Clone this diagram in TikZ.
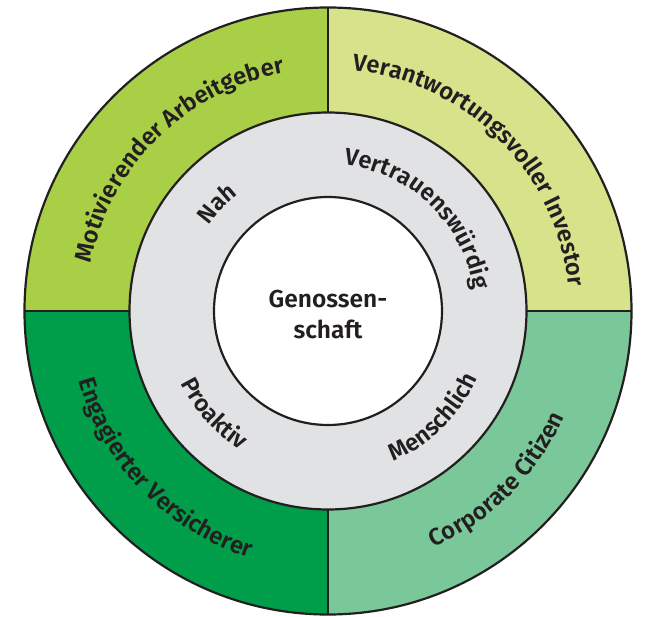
\documentclass[tikz,border=0pt]{standalone}
\usepackage{fontspec}
\setmainfont{Fira Sans}[BoldFont={Fira Sans SemiBold}]
\usetikzlibrary{decorations.text}
\definecolor{cTL}{HTML}{A8CF45}
\definecolor{cTR}{HTML}{D6E38A}
\definecolor{cBL}{HTML}{009D4A}
\definecolor{cBR}{HTML}{7AC89A}
\definecolor{cGray}{HTML}{E1E2E4}
\definecolor{ink}{HTML}{231F20}
\tikzset{
  ringline/.style={draw=ink, line width=2.2pt},
  ringtext/.style={decorate, decoration={text along path, text align=center, text color=ink,
     text={|\fontsize{23.8}{23.8}\selectfont\bfseries|#1}}},
  centertext/.style={text=ink, font=\fontsize{24.5}{24.5}\selectfont\bfseries, anchor=base, inner sep=0pt}
}
\begin{document}
\begin{tikzpicture}[x=1pt,y=1pt]
\useasboundingbox (-328pt,-305pt) rectangle (320pt,311pt);
% quadrants
\fill[cTL] (0,0) -- (180:303.5pt) arc[start angle=180,end angle=90,radius=303.5pt] -- cycle;
\fill[cTR] (0,0) -- (90:303.5pt) arc[start angle=90,end angle=0,radius=303.5pt] -- cycle;
\fill[cBL] (0,0) -- (180:303.5pt) arc[start angle=180,end angle=270,radius=303.5pt] -- cycle;
\fill[cBR] (0,0) -- (270:303.5pt) arc[start angle=270,end angle=360,radius=303.5pt] -- cycle;
% rings
\fill[cGray] (0,0) circle[radius=198.5pt];
\fill[white] (0,0) circle[radius=114pt];
\draw[ringline] (90:198.5pt) -- (90:303.5pt);
\draw[ringline] (270:198.5pt) -- (270:303.5pt);
\draw[ringline] (180:198.5pt) -- (180:303.5pt);
\draw[ringline] (0:198.5pt) -- (0:303.5pt);
\draw[ringline] (0,0) circle[radius=303.5pt];
\draw[ringline] (0,0) circle[radius=198.5pt];
\draw[ringline] (0,0) circle[radius=114pt];
% outer labels
\path[ringtext={Motivierender Arbeitgeber}] (184.5:242pt) arc[start angle=184.5,end angle=84.5,radius=242pt];
\path[ringtext={Verantwortungsvoller Investor}] (95:242pt) arc[start angle=95,end angle=-5,radius=242pt];
\path[ringtext={Engagierter Versicherer}] (174:259pt) arc[start angle=174,end angle=274,radius=259pt];
\path[ringtext={Corporate Citizen}] (265:259pt) arc[start angle=265,end angle=365,radius=259pt];
% inner labels
\path[ringtext={Nah}] (186:147pt) arc[start angle=186,end angle=86,radius=147pt];
\path[ringtext={Vertrauenswürdig}] (96:147pt) arc[start angle=96,end angle=-4,radius=147pt];
\path[ringtext={Proaktiv}] (172:164pt) arc[start angle=172,end angle=272,radius=164pt];
\path[ringtext={Menschlich}] (264.7:164pt) arc[start angle=264.7,end angle=364.7,radius=164pt];
% center
\node[centertext] (gen) at (0,3.3pt) {Genossen-};
\node[centertext] (sch) at (0,-27pt) {schaft};
\end{tikzpicture}
\end{document}
